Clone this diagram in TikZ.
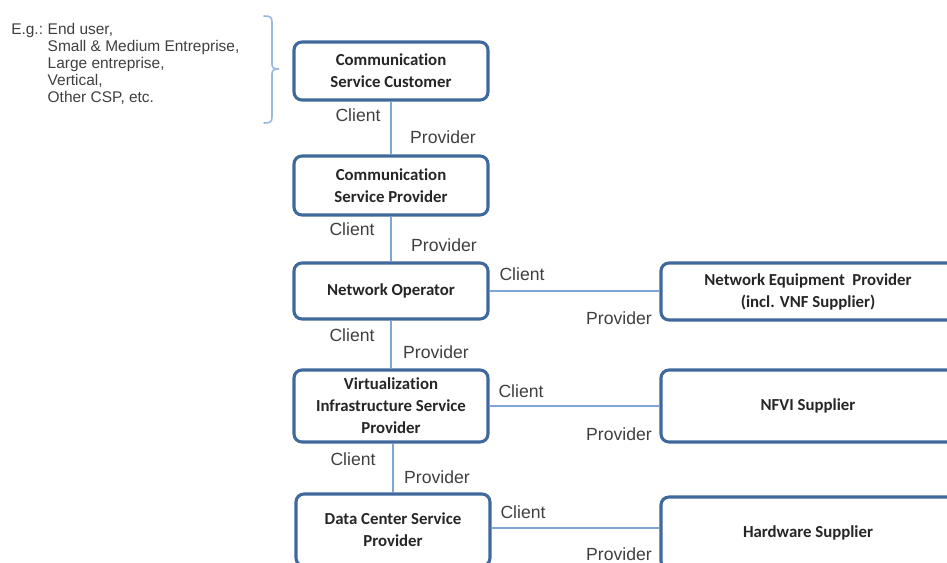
\documentclass[tikz,border=0pt]{standalone}
\usepackage{fontspec}
\setmainfont{Liberation Sans}
\newfontfamily\boxfont[Ligatures=NoCommon]{Carlito}
\definecolor{boxline}{HTML}{3F689C}
\definecolor{linkline}{HTML}{7FA4D6}
\definecolor{bracecol}{HTML}{9BB8DE}
\definecolor{txtgrey}{HTML}{404040}
\definecolor{boxtxt}{HTML}{262626}
\begin{document}
\begin{tikzpicture}[x=0.75pt,y=-0.75pt,
  role/.style={draw=boxline, line width=2.3pt, rounded corners=6pt, fill=white,
    minimum width=145.5pt, align=center, inner sep=2pt,
    font=\boxfont\bfseries\fontsize{12.6}{16.5}\selectfont, text=boxtxt},
  supplier/.style={role, minimum width=220.5pt},
  link/.style={draw=linkline, line width=1.1pt},
  lbl/.style={font=\fontsize{13.2}{15}\selectfont, text=txtgrey, inner sep=0pt},
  note/.style={font=\fontsize{11.6}{12.7}\selectfont, text=txtgrey, inner sep=0pt, anchor=north west}]
\useasboundingbox (0,0) rectangle (947,562);
\fill[white] (0,0) rectangle (947,562);
\clip (0,0) rectangle (947,562);

% examples of customers and the brace grouping them
\node[note] (examples) at (11,22.5) {%
  \begin{tabular}{@{}l@{\hspace{0.3em}}l@{}}
  E.g.: & End user,\\
        & Small \& Medium Entreprise,\\
        & Large entreprise,\\
        & Vertical,\\
        & Other CSP, etc.
  \end{tabular}};
\draw[bracecol, line width=1.2pt, line cap=round]
  (264,16) .. controls (270,16) and (272,17) .. (272,22)
  -- (272,64) .. controls (272,68) and (274,69) .. (279,69)
  .. controls (274,69) and (272,70) .. (272,74)
  -- (272,117) .. controls (272,122) and (270,123) .. (264,123);

% main chain of roles
\node[role, minimum height=43.5pt] (csc) at (391,71) {Communication\\Service Customer};
\node[role, minimum height=44.25pt] (csp) at (391,185.5) {Communication\\Service Provider};
\node[role, minimum height=42pt] (no) at (391,291) {Network Operator};
\node[role, minimum height=54pt] (visp) at (391,406) {Virtualization\\Infrastructure Service\\Provider};
\node[role, minimum height=54pt] (dcsp) at (393,530) {Data Center Service\\Provider};

% suppliers
\node[supplier, minimum height=42.75pt] (nep) at (808,291.5) {Network Equipment\ \ Provider\\(incl. VNF Supplier)};
\node[supplier, minimum height=54pt] (nfvi) at (808,406) {NFVI Supplier};
\node[supplier, minimum height=54pt] (hw) at (808,533) {Hardware Supplier};

% client / provider relations
\draw[link] (csc.south) -- (csc.south |- csp.north);
\draw[link] (csp.south) -- (csp.south |- no.north);
\draw[link] (no.south) -- (no.south |- visp.north);
\draw[link] ([xshift=1.5pt]visp.south) -- ([xshift=1.5pt]visp.south |- dcsp.north);
\draw[link] (no.east) -- (no.east -| nep.west);
\draw[link] (visp.east) -- (visp.east -| nfvi.west);
\draw[link] ([yshift=1.5pt]dcsp.east) -- ([yshift=1.5pt]dcsp.east -| hw.west);

\node[lbl] (c1) at (358,115.5) {Client};
\node[lbl] (p1) at (443,137) {Provider};
\node[lbl] (c2) at (352,229) {Client};
\node[lbl] (p2) at (444,245) {Provider};
\node[lbl] (c3) at (352,335) {Client};
\node[lbl] (p3) at (436,352) {Provider};
\node[lbl] (c4) at (353,459) {Client};
\node[lbl] (p4) at (437,477) {Provider};

\node[lbl] (c5) at (522,274) {Client};
\node[lbl] (p5) at (619,318) {Provider};
\node[lbl] (c6) at (521,391) {Client};
\node[lbl] (p6) at (619,434) {Provider};
\node[lbl] (c7) at (523,512) {Client};
\node[lbl] (p7) at (619,554) {Provider};
\end{tikzpicture}
\end{document}
